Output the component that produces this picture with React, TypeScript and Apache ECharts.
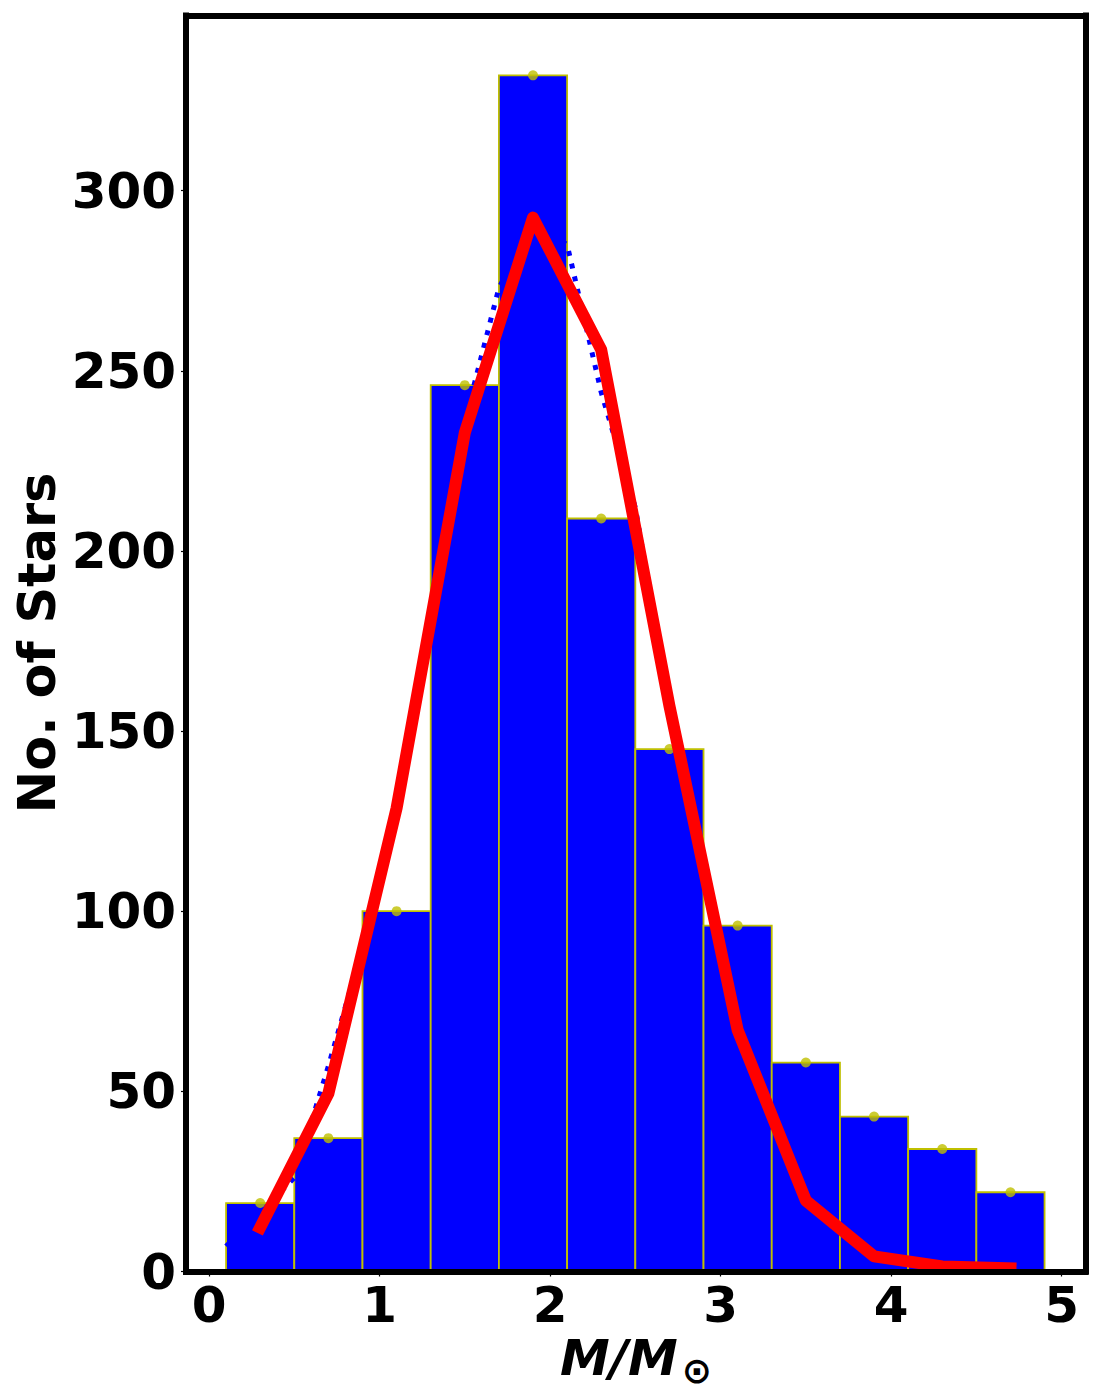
import React, { useEffect, useRef } from "react";
import * as echarts from "echarts";

const binStarts = [0.1, 0.5, 0.9, 1.3, 1.7, 2.1, 2.5, 2.9, 3.3, 3.7, 4.1, 4.5];
const binEnds = [0.5, 0.9, 1.3, 1.7, 2.1, 2.5, 2.9, 3.3, 3.7, 4.1, 4.5, 4.9];
const binCenters = [0.3, 0.7, 1.1, 1.5, 1.9, 2.3, 2.7, 3.1, 3.5, 3.9, 4.3, 4.7];
const counts = [19, 37, 100, 246, 332, 209, 145, 96, 58, 43, 34, 22];

const fitY = [12.2, 49.4, 128.6, 232.8, 292.5, 255.8, 157, 67, 19.7, 4.2, 1.4, 0.9];

const dottedX = [0.1, 0.5, 0.7, 0.9, 1.1, 1.3, 1.5, 1.7, 1.9, 2.1, 2.3, 2.5, 2.7, 2.9, 3.1, 3.3, 3.5, 3.7, 3.9, 4.1, 4.3, 4.5, 4.7];
const dottedY = [7, 26, 57, 90, 129, 182, 236, 273, 291, 285, 244, 212, 157, 111, 68, 40, 21, 11, 5, 2.5, 1.5, 1, 0.6];

const xTicks = [0, 1, 2, 3, 4, 5];
const yTicks = [0, 50, 100, 150, 200, 250, 300];

const X_MIN = -0.135;
const X_MAX = 5.14;
const Y_MIN = 0;
const Y_MAX = 348.6;

const FONT = "DejaVu Sans";

export default function App() {
  const ref = useRef<HTMLDivElement>(null);

  useEffect(() => {
    document.body.style.margin = "0";
    if (!ref.current) return;
    const chart = echarts.init(ref.current, undefined, { renderer: "svg" });

    const barData = binStarts.map((s, i) => [s, binEnds[i], counts[i]]);
    const dotData = binCenters.map((c, i) => [c, counts[i]]);
    const fitData = binCenters.map((c, i) => [c, fitY[i]]);
    const dottedData = dottedX.map((x, i) => [x, dottedY[i]]);

    const frameLine = { show: true, onZero: false, lineStyle: { color: "#000", width: 6, cap: "square" } };

    const option: any = {
      animation: false,
      backgroundColor: "#fff",
      grid: { left: 186, right: 14.5, top: 15.5, bottom: 128.5, containLabel: false },
      xAxis: [
        {
          type: "value",
          min: X_MIN,
          max: X_MAX,
          position: "bottom",
          z: 5,
          axisLine: frameLine,
          splitLine: { show: false },
          axisTick: { show: true, customValues: xTicks, length: 5, lineStyle: { color: "#000", width: 1.2 } },
          axisLabel: {
            customValues: xTicks,
            margin: 8,
            color: "#000",
            fontSize: 50,
            fontWeight: "bold",
            fontFamily: FONT,
          },
        },
        {
          type: "value",
          min: X_MIN,
          max: X_MAX,
          position: "top",
          z: 5,
          axisLine: frameLine,
          splitLine: { show: false },
          axisTick: { show: false },
          axisLabel: { show: false },
        },
      ],
      yAxis: [
        {
          type: "value",
          min: Y_MIN,
          max: Y_MAX,
          position: "left",
          z: 5,
          axisLine: frameLine,
          splitLine: { show: false },
          axisTick: { show: true, customValues: yTicks, length: 5, lineStyle: { color: "#000", width: 1.2 } },
          axisLabel: {
            customValues: yTicks,
            margin: 10,
            color: "#000",
            fontSize: 50,
            fontWeight: "bold",
            fontFamily: FONT,
          },
        },
        {
          type: "value",
          min: Y_MIN,
          max: Y_MAX,
          position: "right",
          z: 5,
          axisLine: frameLine,
          splitLine: { show: false },
          axisTick: { show: false },
          axisLabel: { show: false },
        },
      ],
      series: [
        {
          type: "custom",
          name: "hist",
          xAxisIndex: 0,
          yAxisIndex: 0,
          z: 1,
          data: barData,
          encode: { x: [0, 1], y: 2 },
          renderItem: (params: any, api: any) => {
            const x0 = api.value(0);
            const x1 = api.value(1);
            const v = api.value(2);
            const p0 = api.coord([x0, v]);
            const p1 = api.coord([x1, 0]);
            return {
              type: "rect",
              shape: { x: p0[0], y: p0[1], width: p1[0] - p0[0], height: p1[1] - p0[1] },
              style: { fill: "#0000ff", stroke: "#bfbf00", lineWidth: 1.8 },
            };
          },
        },
        {
          type: "line",
          name: "dotted",
          xAxisIndex: 0,
          yAxisIndex: 0,
          z: 2,
          data: dottedData,
          showSymbol: false,
          symbol: "none",
          lineStyle: { color: "#0000ff", width: 5, type: [5, 8], cap: "butt" },
        },
        {
          type: "scatter",
          name: "points",
          xAxisIndex: 0,
          yAxisIndex: 0,
          z: 3,
          data: dotData,
          symbolSize: 10,
          itemStyle: { color: "#bfbf00" },
        },
        {
          type: "line",
          name: "fit",
          xAxisIndex: 0,
          yAxisIndex: 0,
          z: 4,
          data: fitData,
          showSymbol: false,
          symbol: "none",
          lineStyle: { color: "#ff0000", width: 12, cap: "square", join: "round" },
        },
      ],
      graphic: [
        {
          type: "text",
          x: 37,
          y: 643,
          rotation: Math.PI / 2,
          style: {
            text: "No. of Stars",
            fill: "#000",
            font: `bold 51px "${FONT}"`,
            align: "center",
            verticalAlign: "middle",
          },
        },
        {
          type: "text",
          x: 636,
          y: 1358,
          style: {
            text: "{m|M/M}{s|⊙}",
            align: "center",
            verticalAlign: "middle",
            rich: {
              m: { fontFamily: FONT, fontWeight: "bold", fontStyle: "italic", fontSize: 50, fill: "#000", color: "#000" },
              s: { fontFamily: FONT, fontWeight: "bold", fontSize: 36, fill: "#000", color: "#000", padding: [24, 0, 0, 4] },
            },
          },
        },
      ],
    };

    chart.setOption(option);
    return () => chart.dispose();
  }, []);

  return <div ref={ref} style={{ width: 1100, height: 1400 }} />;
}
